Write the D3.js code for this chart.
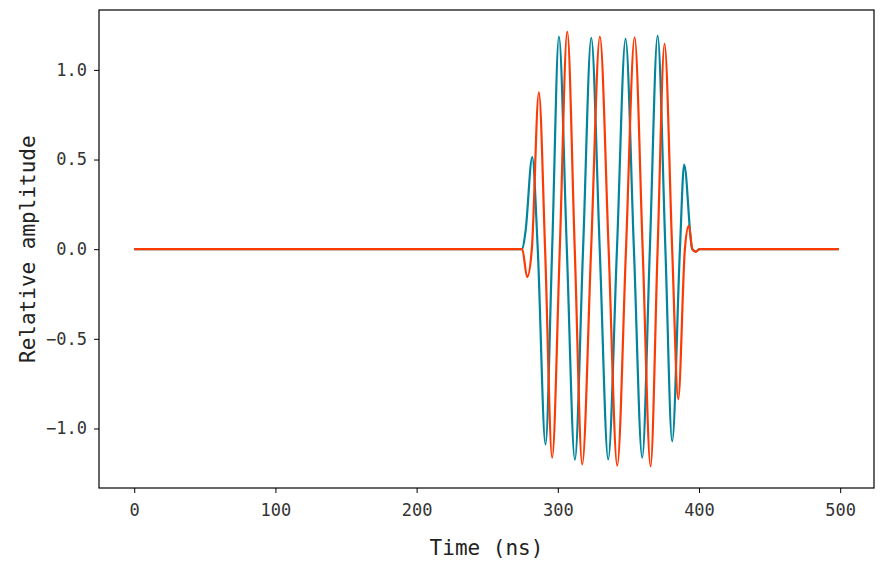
<!DOCTYPE html>
<html>
<head>
<meta charset="utf-8">
<script src="https://cdn.jsdelivr.net/npm/d3@7"></script>
<style>
  body { margin: 0; background: #fff; }
  text { font-family: "DejaVu Sans Mono", monospace; }
</style>
</head>
<body>
<script>
// 파형 데이터 (그림에서 읽은 값: 시간 ns, 상대 진폭)
const tealTime = [0, 274.8, 277.2, 281.9, 285.8, 291.3, 296.0, 300.8, 306.4, 312.1, 317.9, 323.7, 329.7, 335.7, 341.9, 348.0, 353.9, 359.8, 365.2, 370.7, 376.2, 381.0, 386.5, 389.5, 395.2, 397.6, 400.5, 499];
const tealAmp = [0, 0, 0.104, 0.513, 0, -1.089, 0, 1.186, 0, -1.174, 0, 1.178, 0, -1.172, 0, 1.173, 0, -1.163, 0, 1.191, 0, -1.072, 0, 0.472, 0, -0.012, 0, 0];

const redTime = [0, 274.8, 278.3, 281.6, 286.6, 291.0, 296.0, 301.4, 306.7, 312.0, 317.3, 323.6, 329.8, 336.0, 342.1, 348.3, 354.4, 360.1, 365.7, 370.7, 375.6, 381.0, 385.3, 390.0, 392.8, 395.3, 397.6, 400.5, 499];
const redAmp = [0, 0, -0.156, 0, 0.875, 0, -1.163, 0, 1.213, 0, -1.2, 0, 1.186, 0, -1.207, 0, 1.182, 0, -1.211, 0, 1.145, 0, -0.836, 0, 0.132, 0, -0.015, 0, 0];

const xTicks = [0, 100, 200, 300, 400, 500];
const yTicks = [-1.0, -0.5, 0.0, 0.5, 1.0];

const width = 884, height = 571;
const margin = { top: 10, right: 10, bottom: 83, left: 99 };

const svg = d3
  .select("body")
  .append("svg")
  .attr("width", width)
  .attr("height", height);

const x = d3.scaleLinear().domain([-24.95, 523.95]).range([margin.left, width - margin.right]);
const y = d3.scaleLinear().domain([-1.332, 1.334]).range([height - margin.bottom, margin.top]);

// 축
const xAxis = svg
  .append("g")
  .attr("transform", `translate(0,${height - margin.bottom})`)
  .call(d3.axisBottom(x).tickValues(xTicks).tickSize(5).tickPadding(11).tickFormat(d3.format("d")));

const yAxis = svg
  .append("g")
  .attr("transform", `translate(${margin.left},0)`)
  .call(d3.axisLeft(y).tickValues(yTicks).tickSize(5).tickPadding(7).tickFormat(d3.format(".1f")));

[xAxis, yAxis].forEach((g) => {
  g.select(".domain").remove();
  g.selectAll(".tick line").attr("stroke", "#000").attr("stroke-width", 1);
  g.selectAll(".tick text").attr("font-size", 17).attr("fill", "#333");
});
yAxis.selectAll(".tick text").text((d) => d3.format(".1f")(d).replace("-", "\u2212"));

// 테두리
svg
  .append("rect")
  .attr("x", margin.left)
  .attr("y", margin.top)
  .attr("width", width - margin.left - margin.right)
  .attr("height", height - margin.top - margin.bottom)
  .attr("fill", "none")
  .attr("stroke", "#000")
  .attr("stroke-width", 1.2);

const line = d3
  .line()
  .x((d) => x(d[0]))
  .y((d) => y(d[1]))
  .curve(d3.curveMonotoneX);

const series = [
  { t: tealTime, a: tealAmp, color: "#02849c" },
  { t: redTime, a: redAmp, color: "#fb3a04" },
];

svg
  .selectAll("path.wave")
  .data(series)
  .enter()
  .append("path")
  .attr("class", "wave")
  .attr("d", (s) => line(s.t.map((t, i) => [t, s.a[i]])))
  .attr("fill", "none")
  .attr("stroke", (s) => s.color)
  .attr("stroke-width", 2.2);

// 축 제목
svg
  .append("text")
  .attr("x", (margin.left + width - margin.right) / 2)
  .attr("y", 555)
  .attr("text-anchor", "middle")
  .attr("font-size", 21)
  .attr("fill", "#222")
  .text("Time (ns)");

svg
  .append("text")
  .attr("transform", `translate(35,${y(0)}) rotate(-90)`)
  .attr("text-anchor", "middle")
  .attr("font-size", 21)
  .attr("fill", "#222")
  .text("Relative amplitude");
</script>
</body>
</html>
